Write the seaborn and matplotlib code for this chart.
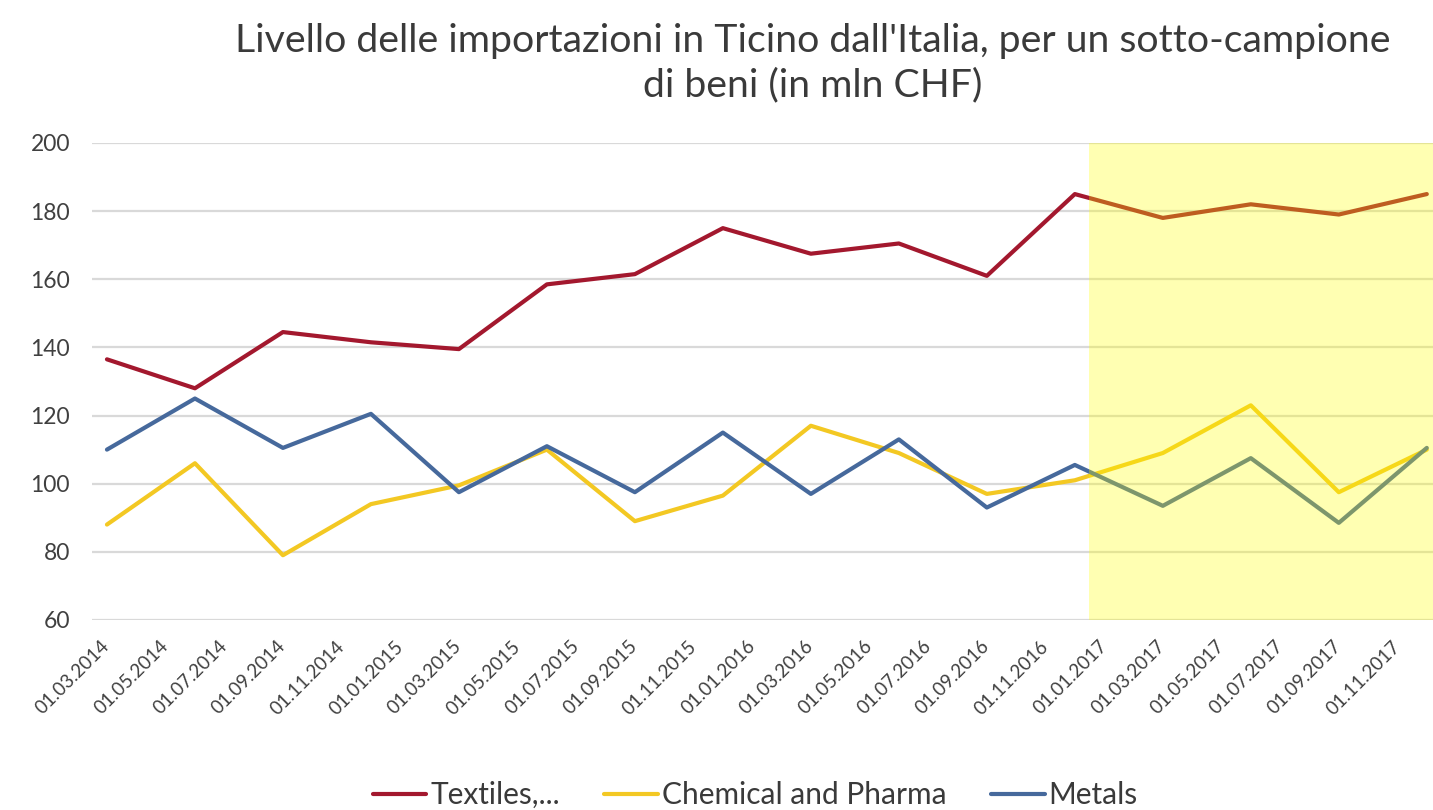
import matplotlib
matplotlib.use("Agg")
import matplotlib.pyplot as plt
import numpy as np
import pandas as pd
import seaborn as sns

# Quarterly observations (month of the observation)
periods = ["2014-03", "2014-06", "2014-09", "2014-12",
           "2015-03", "2015-06", "2015-09", "2015-12",
           "2016-03", "2016-06", "2016-09", "2016-12",
           "2017-03", "2017-06", "2017-09", "2017-12"]

# Import levels, mln CHF
textiles = [136.5, 128, 144.5, 141.5, 139.5, 158.5, 161.5, 175,
            167.5, 170.5, 161, 185, 178, 182, 179, 185]
chemical = [88, 106, 79, 94, 99.5, 110, 89, 96.5,
            117, 109, 97, 101, 109, 123, 97.5, 110]
metals = [110, 125, 110.5, 120.5, 97.5, 111, 97.5, 115,
          97, 113, 93, 105.5, 93.5, 107.5, 88.5, 110.5]

series_names = ["Textiles,...", "Chemical and Pharma", "Metals"]
series_colors = ["#A3182E", "#F3C823", "#46699C"]

tick_labels = ["01.03.2014", "01.05.2014", "01.07.2014", "01.09.2014",
               "01.11.2014", "01.01.2015", "01.03.2015", "01.05.2015",
               "01.07.2015", "01.09.2015", "01.11.2015", "01.01.2016",
               "01.03.2016", "01.05.2016", "01.07.2016", "01.09.2016",
               "01.11.2016", "01.01.2017", "01.03.2017", "01.05.2017",
               "01.07.2017", "01.09.2017", "01.11.2017"]

title_text = ("Livello delle importazioni in Ticino dall'Italia, per un sotto-campione\n"
              "di beni (in mln CHF)")

# Highlighted period starts with January 2017
highlight_start = "2017-01"

# ---- build a month-index axis (one slot per month, points in slot centres)
start = pd.Period(periods[0], freq="M")
month_idx = [(pd.Period(p, freq="M") - start).n for p in periods]
tick_pos = [(pd.Period(pd.to_datetime(t, format="%d.%m.%Y"), freq="M") - start).n
            for t in tick_labels]
hl_x = (pd.Period(highlight_start, freq="M") - start).n - 0.5
n_months = month_idx[-1] + 1

df = pd.DataFrame({
    "month": month_idx * 3,
    "value": textiles + chemical + metals,
    "series": sum([[n] * len(periods) for n in series_names], []),
})

sns.set_theme(style="white")
plt.rcParams["font.family"] = ["Lato", "DejaVu Sans"]

fig = plt.figure(figsize=(14.33, 8.10), dpi=100)
# plot area runs slightly past the right edge of the canvas
ax = fig.add_axes([0.0644, 0.2346, 0.9415, 0.5889])

sns.lineplot(data=df, x="month", y="value", hue="series",
             hue_order=series_names, palette=series_colors,
             linewidth=3.0, ax=ax, legend=False, zorder=2)

ax.axvspan(hl_x, n_months - 0.5, color="#FFFF00", alpha=0.30,
           linewidth=0, zorder=3)

ax.set_xlim(-0.5, n_months - 0.5)
ax.set_ylim(60, 200)
ax.set_yticks(np.arange(60, 201, 20))
ax.yaxis.grid(True, color="#D9D9D9", linewidth=1.6, zorder=0)
ax.set_axisbelow(True)
for s in ax.spines.values():
    s.set_visible(False)

ax.set_xticks(tick_pos)
ax.set_xticklabels(tick_labels, rotation=45, ha="right", va="center",
                   rotation_mode="anchor", fontsize=13.5, color="#404040")
ax.set_xticks([p - 0.5 for p in tick_pos], minor=True)
ax.tick_params(axis="x", which="major", length=0, pad=17)
ax.tick_params(axis="x", which="minor", length=7, width=1.2,
               color="#D9D9D9", direction="out")
ax.tick_params(axis="y", length=0, pad=16, labelsize=16.5, labelcolor="#404040")
ax.set_xlabel("")
ax.set_ylabel("")

fig.text(0.567, 0.972, title_text, ha="center", va="top",
         fontsize=28.3, color="#3A3A3A", linespacing=1.28)

handles = [plt.Line2D([], [], color=c, linewidth=3.0) for c in series_colors]
fig.legend(handles, series_names, loc="lower center",
           bbox_to_anchor=(0.527, -0.032), ncol=3, frameon=False,
           fontsize=21.5, handlelength=1.8, handletextpad=0.12,
           columnspacing=1.5, labelcolor="#3A3A3A")

fig.savefig("out.png", dpi=100)
